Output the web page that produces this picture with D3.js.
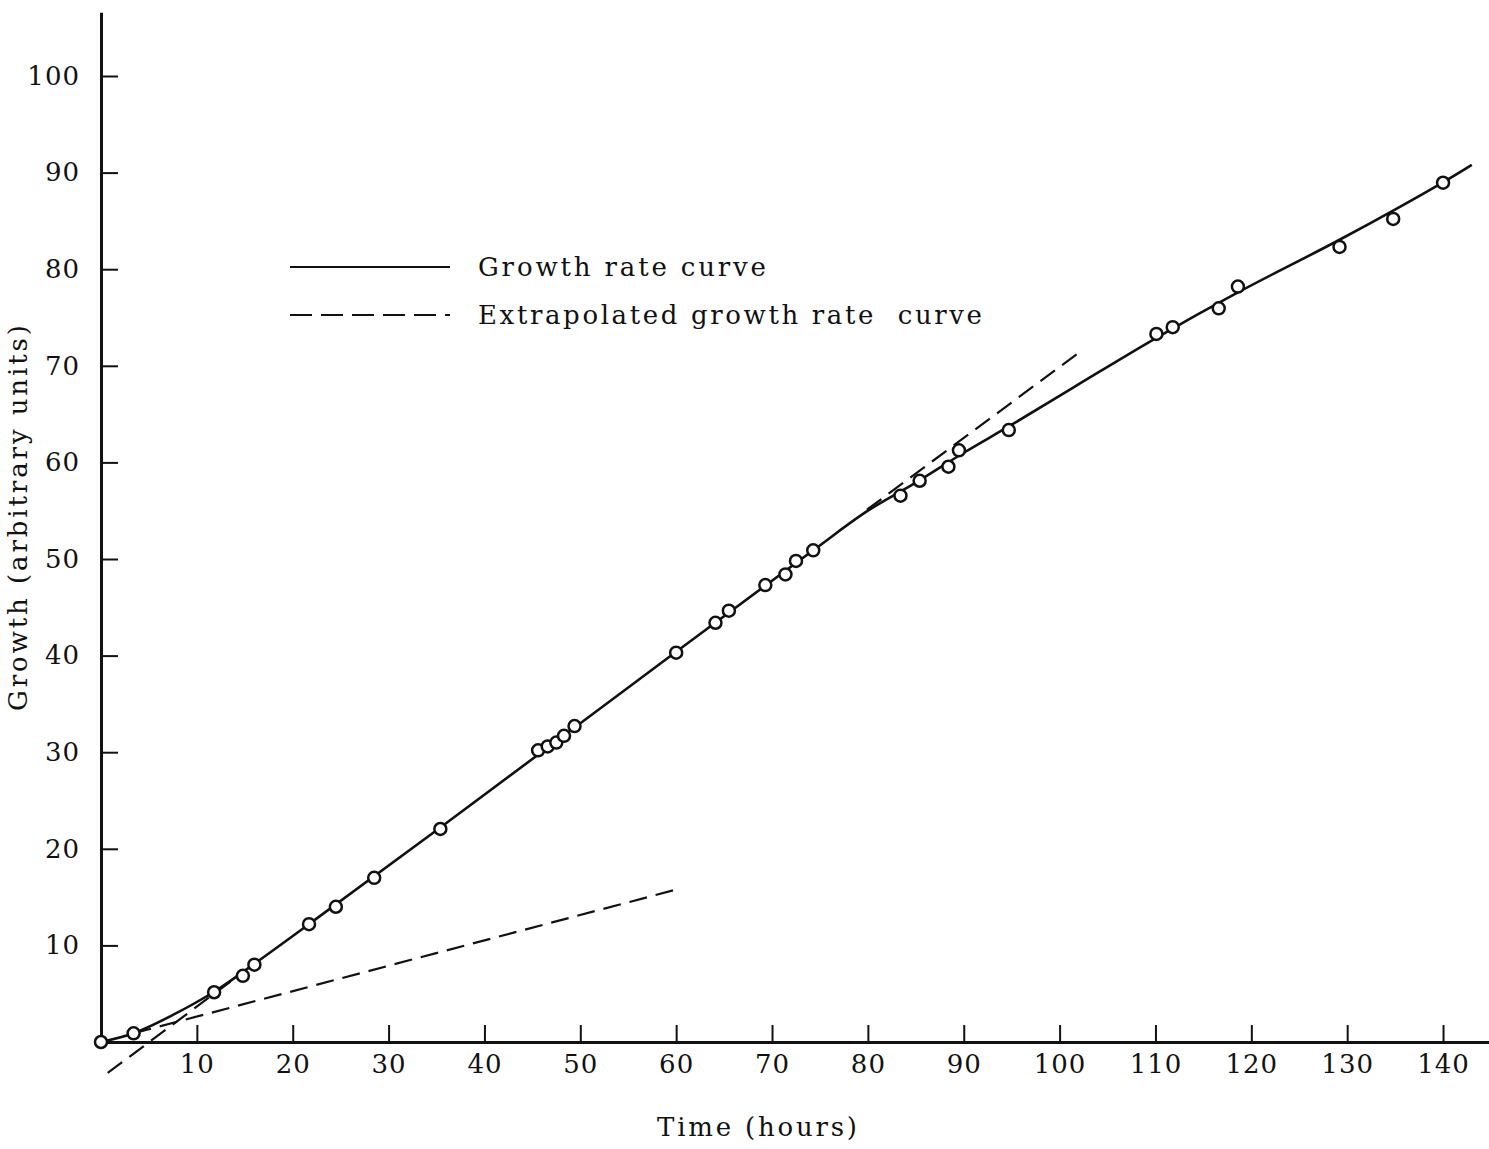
<!DOCTYPE html>
<html>
<head>
<meta charset="utf-8">
<script src="https://cdn.jsdelivr.net/npm/d3@7"></script>
<style>
  html, body { margin: 0; padding: 0; background: #fff; }
  svg { display: block; }
  text { font-family: "DejaVu Serif", "Liberation Serif", serif; fill: #111; }
</style>
</head>
<body>
<svg id="chart" width="1489" height="1149"></svg>
<script>
// Measured growth (arbitrary units) against time (hours)
const timeHours = [0, 3.4, 11.8, 14.8, 16.0, 21.7, 24.5, 28.5, 35.4,
  45.6, 46.6, 47.5, 48.3, 49.4, 60.0, 64.1, 65.5, 69.3, 71.4, 72.5, 74.3,
  83.4, 85.4, 88.4, 89.5, 94.7, 110.1, 111.8, 116.6, 118.6, 129.2, 134.8, 140.0];
const growth = [0, 0.9, 5.15, 6.85, 8.0, 12.2, 14.0, 17.0, 22.05,
  30.2, 30.6, 31.0, 31.7, 32.7, 40.3, 43.4, 44.65, 47.3, 48.4, 49.8, 50.9,
  56.55, 58.1, 59.55, 61.25, 63.35, 73.3, 74.0, 75.95, 78.2, 82.3, 85.2, 88.95];

// Fitted growth rate curve (knots)
const curveTime   = [0, 3.4, 7.5, 11.8, 16.0, 21.7, 35.4, 60.0, 74.3, 80.0, 85.0, 90.0, 95.0, 102.0, 110.1, 118.6, 129.3, 140.0, 143.0];
const curveGrowth = [0, 0.9, 2.8, 5.2, 8.1, 12.2, 22.2, 40.4, 50.9, 55.0, 57.9, 61.0, 63.9, 68.1, 72.9, 77.6, 83.1, 89.0, 90.8];

// Extrapolated growth rate curves (straight segments)
const extrapLinearTime   = [0.7, 16.0];     // linear phase projected back to the axis
const extrapLinearGrowth = [-3.2, 8.1];
const extrapEarlyTime    = [3.4, 59.7];     // early growth rate carried forward
const extrapEarlyGrowth  = [0.9, 15.7];
const extrapLateTime     = [79.9, 102.2];   // linear phase carried beyond the bend
const extrapLateGrowth   = [55.1, 71.5];

// Axis ticks
const xTicks = [10, 20, 30, 40, 50, 60, 70, 80, 90, 100, 110, 120, 130, 140];
const yTicks = [10, 20, 30, 40, 50, 60, 70, 80, 90, 100];

const legendLabels = ["Growth rate curve", "Extrapolated growth rate  curve"];

const svg = d3.select("#chart");

const x = d3.scaleLinear().domain([0, 145]).range([101, 101 + 145 * 9.586]);
const y = d3.scaleLinear().domain([0, 100]).range([1042, 76]);

const ink = "#111";

// X axis: ticks point up into the plot
const xAxis = d3.axisBottom(x)
  .tickValues(xTicks)
  .tickSizeInner(-17)
  .tickSizeOuter(0)
  .tickPadding(13)
  .tickFormat(d3.format("d"));

const gx = svg.append("g")
  .attr("transform", `translate(0,${y(0)})`)
  .call(xAxis);
gx.select(".domain").attr("stroke", ink).attr("stroke-width", 3);
gx.selectAll(".tick line").attr("stroke", ink).attr("stroke-width", 2);
gx.selectAll(".tick text")
  .attr("font-size", 26)
  .attr("font-family", "DejaVu Serif")
  .attr("fill", ink)
  .style("letter-spacing", "1px");

// Y axis: ticks point right into the plot
const yTop = 106.6;
const yAxis = d3.axisLeft(y.copy().domain([0, yTop]).range([y(0), y(yTop)]))
  .tickValues(yTicks)
  .tickSizeInner(-17)
  .tickSizeOuter(0)
  .tickPadding(21)
  .tickFormat(d3.format("d"));

const gy = svg.append("g")
  .attr("transform", `translate(${x(0)},0)`)
  .call(yAxis);
gy.select(".domain").attr("stroke", ink).attr("stroke-width", 3);
gy.selectAll(".tick line").attr("stroke", ink).attr("stroke-width", 2);
gy.selectAll(".tick text")
  .attr("font-size", 26)
  .attr("font-family", "DejaVu Serif")
  .attr("fill", ink)
  .style("letter-spacing", "1px");

// Axis titles
svg.append("text")
  .attr("x", 757)
  .attr("y", 1136)
  .attr("text-anchor", "middle")
  .attr("font-size", 26)
  .attr("textLength", 200)
  .attr("lengthAdjust", "spacing")
  .text("Time (hours)");

svg.append("text")
  .attr("transform", `translate(27,518) rotate(-90)`)
  .attr("text-anchor", "middle")
  .attr("font-size", 26)
  .attr("textLength", 386)
  .attr("lengthAdjust", "spacing")
  .text("Growth (arbitrary units)");

// Lines
const line = d3.line()
  .x(d => x(d[0]))
  .y(d => y(d[1]));

const solidLine = d3.line()
  .x(d => x(d[0]))
  .y(d => y(d[1]))
  .curve(d3.curveCatmullRom.alpha(0.5));

const dashed = "18,9";

[[extrapLinearTime, extrapLinearGrowth],
 [extrapEarlyTime, extrapEarlyGrowth],
 [extrapLateTime, extrapLateGrowth]].forEach(([tx, gy2]) => {
  svg.append("path")
    .datum(d3.zip(tx, gy2))
    .attr("d", line)
    .attr("fill", "none")
    .attr("stroke", ink)
    .attr("stroke-width", 2.2)
    .attr("stroke-dasharray", dashed);
});

svg.append("path")
  .datum(d3.zip(curveTime, curveGrowth))
  .attr("d", solidLine)
  .attr("fill", "none")
  .attr("stroke", ink)
  .attr("stroke-width", 2.6);

// Observations
svg.append("g")
  .selectAll("circle")
  .data(d3.zip(timeHours, growth))
  .join("circle")
  .attr("cx", d => x(d[0]))
  .attr("cy", d => y(d[1]))
  .attr("r", 6)
  .attr("fill", "#fff")
  .attr("stroke", ink)
  .attr("stroke-width", 2.5);

// Legend
const legend = svg.append("g");
const legendRows = [
  { label: legendLabels[0], dash: null, yPos: 267, width: 288 },
  { label: legendLabels[1], dash: "22,9", yPos: 315, width: 504 }
];
legendRows.forEach(row => {
  legend.append("line")
    .attr("x1", 290).attr("x2", 450)
    .attr("y1", row.yPos).attr("y2", row.yPos)
    .attr("stroke", ink)
    .attr("stroke-width", 1.8)
    .attr("stroke-dasharray", row.dash);
  legend.append("text")
    .attr("x", 478)
    .attr("y", row.yPos + 9)
    .attr("font-size", 26)
    .attr("textLength", row.width)
    .attr("lengthAdjust", "spacing")
    .style("white-space", "pre")
    .text(row.label);
});
</script>
</body>
</html>
